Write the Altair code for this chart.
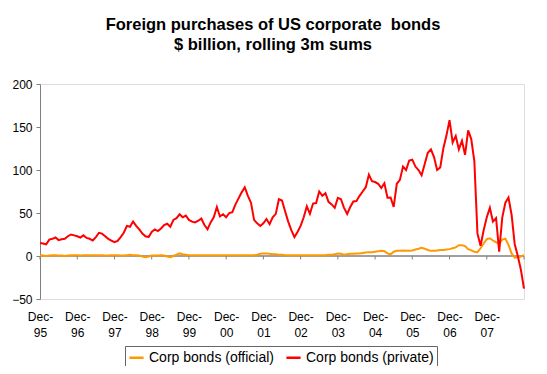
import altair as alt
import pandas as pd

# monthly, Dec-95 (index 0) .. Dec-08 (index 156)
private = [
    15, 14.5, 13.5, 19, 20, 21.5, 18.5, 19.5, 20, 23,
    25, 24, 23, 21.5, 24, 21, 20, 18, 22, 27,
    26, 23, 20, 18, 16, 17.5, 22, 27, 35, 34,
    40, 35, 31, 26, 23, 22, 28, 31, 29, 32,
    36, 37.5, 34, 42, 44, 48.5, 45, 47, 42, 40,
    39, 41, 43.5, 36, 31, 39, 45, 57, 46, 48.5,
    45, 50, 51, 60, 67, 74, 80, 70, 62, 42,
    38, 35, 38, 43, 37, 45, 49, 66, 64.5, 52,
    40, 30, 22, 28, 35, 45, 57.7, 49, 61, 61.5,
    75, 70, 73, 63, 60, 56, 67.7, 66, 56, 49,
    57, 63.5, 64, 70, 75, 80, 94.6, 87, 86, 84,
    79, 84.6, 67.7, 68, 57, 84, 88.5, 104, 100, 111,
    112, 104, 100, 94, 107, 120, 124, 115, 100, 103,
    125, 140, 158, 132, 139.6, 124, 134, 117.7, 146, 136,
    110, 26, 12, 30, 45, 56, 40, 44, 5, 45,
    62, 68, 48, 14, 0, -16, -38,
]
official = [
    1, 0.5, 0, 0.5, 1, 1, 0.5, 0.5, 0, 0.5,
    1, 1, 1, 0.5, 1, 1, 1, 1, 1, 1,
    1, 0.5, 0.5, 1, 1, 1, 0.5, 0.5, 1, 1.5,
    1, 1, 0.5, -0.5, -1.5, -0.5, 0.5, 0.5, 0.5, 1,
    0.5, -0.5, -1.5, 0, 1.5, 3, 2, 1.5, 1, 1,
    1, 1, 1, 1, 1, 1, 1, 1, 1, 1,
    1, 1, 1, 1, 1, 1, 1, 1, 1, 1,
    1.5, 2.5, 3, 3, 2.5, 2, 2, 1.5, 1.5, 1,
    1, 1, 1, 1, 1, 1, 1, 1, 1, 1,
    1, 1, 1, 1.5, 1.5, 2, 3, 2.5, 1.5, 2,
    2.5, 2.5, 3, 3, 3.5, 4, 4.5, 4.5, 5, 5.5,
    6, 5.5, 3, 2, 5, 6, 6, 6.5, 6, 6,
    6.5, 7.5, 8.5, 9.5, 8.5, 7, 6, 6, 6.5, 7,
    7, 7.5, 8, 9, 10, 12.5, 12.5, 11.5, 8, 6.5,
    5, 4.5, 9, 14.5, 19.5, 20.5, 18, 16, 14.5, 19,
    20, 13, 3, -2, -1.5, -0.5, 1,
]
year_labels = ["95", "96", "97", "98", "99", "00", "01", "02", "03", "04", "05", "06", "07"]
tick_months = list(range(0, 157, 12))
series_names = ["Corp bonds (official)", "Corp bonds (private)"]
series_colors = ["#FF9900", "#FF0000"]

rows = []
for i, v in enumerate(official):
    rows.append({"m": i, "v": v, "s": series_names[0]})
for i, v in enumerate(private):
    rows.append({"m": i, "v": v, "s": series_names[1]})
df = pd.DataFrame(rows)
ticks_df = pd.DataFrame({"m": tick_months})

font = "Liberation Sans"
label_arr = "[" + ",".join("'%s'" % y for y in year_labels) + "]"

xscale = alt.Scale(domain=[0, 156], nice=False, zero=False)
yscale = alt.Scale(domain=[-50, 200], nice=False)

lines = alt.Chart(df).mark_line(strokeWidth=2).encode(
    x=alt.X("m:Q", scale=xscale, title=None,
            axis=alt.Axis(values=tick_months[:-1], ticks=False, domain=False, grid=False,
                          labelExpr="['Dec-', " + label_arr + "[round(datum.value/12)]]",
                          labelFont=font, labelFontSize=12, labelColor="black",
                          labelAlign="center", labelOverlap=False, labelFlush=False,
                          labelPadding=12, labelLineHeight=16)),
    y=alt.Y("v:Q", scale=yscale, title=None,
            axis=alt.Axis(values=[-50, 0, 50, 100, 150, 200], grid=False, tickSize=4,
                          tickColor="#808080", domainColor="#808080",
                          labelFont=font, labelFontSize=12, labelColor="black",
                          labelPadding=4)),
    color=alt.Color("s:N", scale=alt.Scale(domain=series_names, range=series_colors),
                    legend=alt.Legend(title=None, orient="none", legendX=85, legendY=262,
                                      direction="horizontal", symbolType="stroke",
                                      symbolStrokeWidth=2.5, symbolSize=200,
                                      labelFont=font, labelFontSize=14, labelColor="black",
                                      strokeColor="#666666", padding=3, columnPadding=6,
                                      labelOffset=4)),
)

zero_line = alt.Chart(pd.DataFrame({"m": [0], "m2": [156]})).mark_rule(
    color="#808080", strokeWidth=1.5).encode(
    x=alt.X("m:Q", scale=xscale), x2="m2:Q", y=alt.datum(0))

tick_marks = alt.Chart(ticks_df).mark_rule(color="#808080", strokeWidth=1).encode(
    x=alt.X("m:Q", scale=xscale), y=alt.datum(0), y2=alt.datum(-4))

chart = alt.layer(zero_line, tick_marks, lines).properties(
    width=484, height=215,
    title=alt.Title(["Foreign purchases of US corporate\u00a0 bonds", "$ billion, rolling 3m sums"],
                    font=font, fontSize=16.5, fontWeight="bold", color="black",
                    lineHeight=20, offset=25, dx=-9, anchor="middle"),
    autosize=alt.AutoSizeParams(type="none"),
    padding={"left": 32, "top": 76, "right": 15, "bottom": 67},
).configure_view(stroke=None).configure(background="white")

chart.save("out.html", embed_options={"renderer": "svg", "actions": False})
